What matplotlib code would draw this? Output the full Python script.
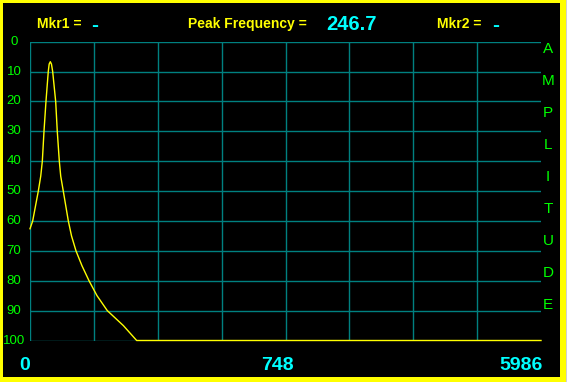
#!/usr/bin/env python
# -*- coding: utf-8 -*-

import matplotlib
matplotlib.use('Agg')
import matplotlib.pyplot as plt
from matplotlib.patches import Rectangle

# spectrum trace: x in grid divisions (0..8), amplitude 0 (top) .. 100 (bottom)
trace_x = [0.0, 0.042, 0.086, 0.130, 0.168, 0.193, 0.219, 0.250, 0.286, 0.300,
           0.318, 0.336, 0.355, 0.402, 0.427, 0.459, 0.481, 0.521, 0.600, 0.650,
           0.720, 0.814, 0.924, 1.049, 1.210, 1.461, 1.670, 8.0]
trace_amp = [62.6, 60, 55, 50, 45, 40, 30, 20, 10, 7.5,
             6.7, 7.5, 10, 20, 30, 40, 45, 50, 60, 65,
             70, 75, 80, 85, 90, 95, 100, 100]

amp_ticks = [0, 10, 20, 30, 40, 50, 60, 70, 80, 90, 100]
freq_labels = ['0', '748', '5986']
side_label = 'AMPLITUDE'
peak_freq = '246.7'
mkr1 = '-'
mkr2 = '-'

W, H = 567, 382
YELLOW = '#ffff00'
CYAN = '#00ffff'
GREEN = '#00ff00'
TEAL = '#008080'

def fx(px):
    return px / W

def fy(py):
    return 1 - py / H

def main():
    fig = plt.figure(figsize=(W / 100, H / 100), dpi=100)
    fig.patch.set_facecolor('black')

    # yellow frame
    for (x0, y0, w, h, c) in [(0, 0, 3, H, YELLOW), (0, 0, W, 3, YELLOW),
                              (560, 0, 6, H, YELLOW), (0, 377, W, 5, YELLOW),
                              (566, 0, 1, H, '#d0d0d0')]:
        fig.patches.append(Rectangle((fx(x0), fy(y0 + h)), w / W, h / H,
                                     transform=fig.transFigure, facecolor=c,
                                     edgecolor='none', zorder=0))

    left, right, top, bottom = 30, 541, 41.7, 340.5
    ax = fig.add_axes([fx(left), fy(bottom), (right - left) / W, (bottom - top) / H])
    ax.set_facecolor('black')
    ax.set_xlim(0, 8)
    ax.set_ylim(100, 0)
    for s in ax.spines.values():
        s.set_visible(False)
    ax.set_xticks([])
    ax.set_yticks([])

    for v in amp_ticks:
        ax.axhline(v, color=TEAL, lw=1, zorder=1)
    for d in range(8):
        ax.axvline(d, color=TEAL, lw=1, zorder=1)

    ax.plot(trace_x, trace_amp, color=YELLOW, lw=1, zorder=3, clip_on=False)

    # y tick labels
    for v in amp_ticks:
        ax.text(-16 / 63.9, v, str(v), color=GREEN, fontsize=9.5,
                family='Liberation Sans', ha='center', va='center')

    # side label
    for i, ch in enumerate(side_label):
        fig.text(fx(548), fy(49 + 32 * i), ch, color=GREEN, fontsize=11,
                 family='Liberation Sans', ha='center', va='center')

    # header
    hdr = dict(fontsize=10, family='Liberation Sans', fontweight='bold', va='center')
    dash = dict(fontsize=15, family='Liberation Sans', fontweight='bold',
                va='center', ha='center', color=CYAN)
    fig.text(fx(37), fy(24), 'Mkr1 =', color=YELLOW, ha='left', **hdr)
    fig.text(fx(94.5), fy(25.5), mkr1, **dash)
    fig.text(fx(188), fy(24), 'Peak Frequency =', color=YELLOW, ha='left', **hdr)
    fig.text(fx(326), fy(24.5), peak_freq, color=CYAN, ha='left', fontsize=14.5,
             family='Liberation Sans', fontweight='bold', va='center')
    fig.text(fx(437), fy(24), 'Mkr2 =', color=YELLOW, ha='left', **hdr)
    fig.text(fx(495.5), fy(25.5), mkr2, **dash)

    # x labels
    xl = dict(color=CYAN, fontsize=14, family='Liberation Sans', fontweight='bold',
              va='center', ha='center')
    for lab, px in zip(freq_labels, [25, 277, 521.5]):
        fig.text(fx(px), fy(366), lab, **xl)

    fig.savefig('out.png', dpi=100, facecolor=fig.get_facecolor())

if __name__ == '__main__':
    main()
